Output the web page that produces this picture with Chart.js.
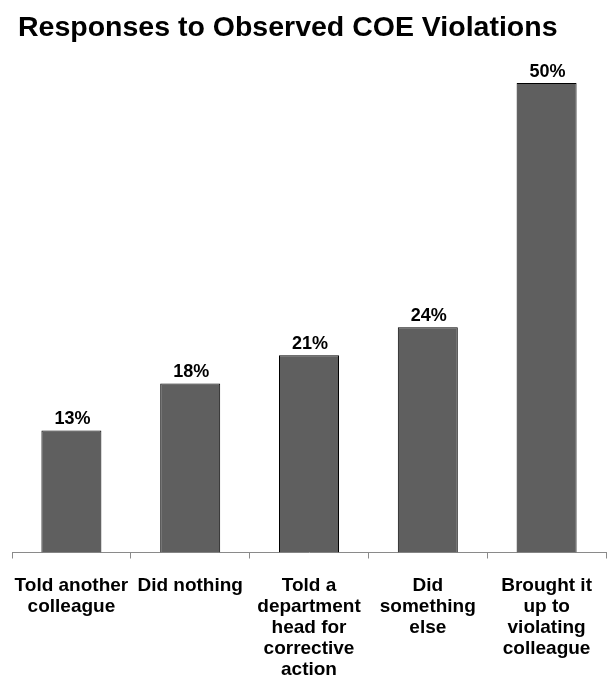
<!DOCTYPE html>
<html>
<head>
<meta charset="utf-8">
<script src="https://cdn.jsdelivr.net/npm/chart.js@4.4.1/dist/chart.umd.min.js"></script>
<style>
  html, body { margin: 0; padding: 0; background: #ffffff; }
  #wrap { width: 609px; height: 681px; }
</style>
</head>
<body>
<div id="wrap"><canvas id="chart" width="609" height="681"></canvas></div>
<script>
// Survey responses, percent of respondents
const chartTitle = "Responses to Observed COE Violations";
const categories = [
  ["Told another", "colleague"],
  ["Did nothing"],
  ["Told a", "department", "head for", "corrective", "action"],
  ["Did", "something", "else"],
  ["Brought it", "up to", "violating", "colleague"]
];
const percentages = [13, 18, 21, 24, 50];
const valueLabels = ["13%", "18%", "21%", "24%", "50%"];

const FONT = "'Liberation Sans', Arial, sans-serif";

// Title drawn at the top-left corner of the canvas
const titlePlugin = {
  id: "leftTitle",
  afterDraw(chart) {
    const ctx = chart.ctx;
    ctx.save();
    ctx.font = "bold 28.5px " + FONT;
    ctx.fillStyle = "#000000";
    ctx.textAlign = "left";
    ctx.textBaseline = "alphabetic";
    ctx.fillText(chartTitle, 18, 36);
    ctx.restore();
  }
};

// Percentage labels above each bar
const valueLabelPlugin = {
  id: "valueLabels",
  afterDatasetsDraw(chart) {
    const ctx = chart.ctx;
    const meta = chart.getDatasetMeta(0);
    ctx.save();
    ctx.font = "bold 18px " + FONT;
    ctx.fillStyle = "#000000";
    ctx.textAlign = "center";
    ctx.textBaseline = "alphabetic";
    meta.data.forEach((bar, i) => {
      ctx.fillText(valueLabels[i], bar.x + 1, bar.y - 6);
    });
    ctx.restore();
  }
};

new Chart(document.getElementById("chart"), {
  type: "bar",
  data: {
    labels: categories,
    datasets: [{
      data: percentages,
      backgroundColor: "#5f5f5f",
      borderColor: "#000000",
      borderWidth: 1,
      borderSkipped: "bottom",
      categoryPercentage: 1.0,
      barPercentage: 0.505
    }]
  },
  options: {
    responsive: false,
    animation: false,
    devicePixelRatio: 1,
    layout: { padding: { left: 12, right: 3, top: 83, bottom: 0 } },
    plugins: {
      legend: { display: false },
      title: { display: false },
      tooltip: { enabled: false }
    },
    scales: {
      x: {
        offset: true,
        // fixed band below the bars for the wrapped category names;
        // the outer names fit inside their own bands, so no side padding
        afterFit(scale) {
          scale.height = 128.5;
          scale.paddingLeft = 0;
          scale.paddingRight = 0;
        },
        border: { display: true, color: "#8a8a8a", width: 1 },
        grid: {
          offset: true,
          drawOnChartArea: false,
          drawTicks: true,
          tickLength: 6,
          color: "#8a8a8a"
        },
        ticks: {
          color: "#000000",
          padding: 17,
          maxRotation: 0,
          autoSkip: false,
          font: { family: FONT, size: 19, weight: "bold", lineHeight: 1.1 }
        }
      },
      y: {
        display: false,
        min: 0,
        max: 50
      }
    }
  },
  plugins: [titlePlugin, valueLabelPlugin]
});
</script>
</body>
</html>
